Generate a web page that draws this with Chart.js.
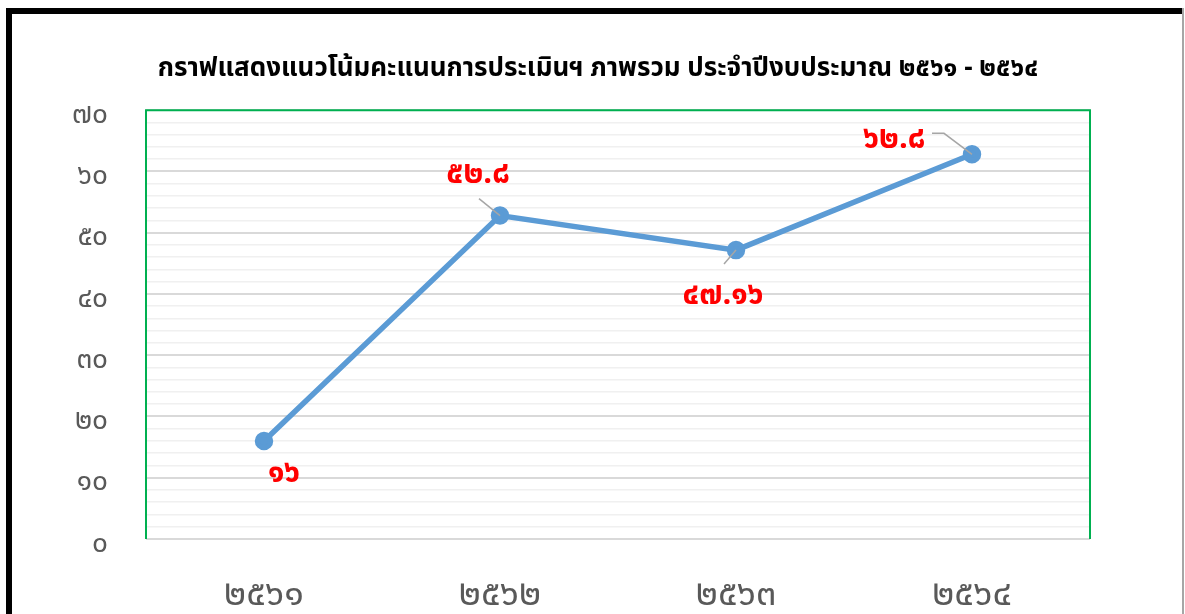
<!DOCTYPE html>
<html>
<head>
<meta charset="utf-8">
<script src="https://cdn.jsdelivr.net/npm/chart.js@4.4.1/dist/chart.umd.min.js"></script>
<style>
  html, body { margin: 0; padding: 0; background: #fff; }
  #wrap { position: absolute; left: 0; top: 0; width: 1185px; height: 614px; }
</style>
</head>
<body>
<div id="wrap"><canvas id="trendChart" width="1185" height="614"></canvas></div>
<script>
const titleText = 'กราฟแสดงแนวโน้มคะแนนการประเมินฯ ภาพรวม ประจำปีงบประมาณ ๒๕๖๑ - ๒๕๖๔';
const years = ['๒๕๖๑', '๒๕๖๒', '๒๕๖๓', '๒๕๖๔'];
const scores = [16, 52.8, 47.16, 62.8];
const yMin = 0, yMax = 70, yStep = 2, yLabelEvery = 10;

const thaiFont = '"Noto Sans Thai", "Leelawadee UI", Tahoma, "DejaVu Sans", "Noto Sans", sans-serif';

// arabic digits -> thai digits
function toThai(v) {
    return String(v).replace(/[0-9]/g, d => '๐๑๒๓๔๕๖๗๘๙'[d]);
}

// where each value label sits relative to its point, and its leader line
const labelPlacement = [
    { dx: 20, dy: 35, leader: null },
    { dx: -22, dy: -39, leader: [[-21, -17], [0, 0]] },
    { dx: -13, dy: 48, leader: [[-12, 14], [0, 0]] },
    { dx: -78, dy: -13, leader: [[-40, -21], [-28, -21], [0, 0]] }
];

const framePlugin = {
    id: 'frame',
    beforeDraw(chart) {
        const ctx = chart.ctx;
        ctx.save();
        ctx.fillStyle = '#000';
        ctx.fillRect(6, 8, 6, 700);
        ctx.fillRect(6, 8, 1178, 6);
        ctx.fillStyle = '#a6a6a6';
        ctx.fillRect(1182, 8, 2, 700);
        ctx.restore();
    },
    afterDatasetsDraw(chart) {
        const ctx = chart.ctx;
        const a = chart.chartArea;
        ctx.save();
        ctx.strokeStyle = '#00b050';
        ctx.lineWidth = 2;
        ctx.beginPath();
        ctx.moveTo(a.left, a.bottom);
        ctx.lineTo(a.left, a.top);
        ctx.lineTo(a.right, a.top);
        ctx.lineTo(a.right, a.bottom);
        ctx.stroke();
        ctx.restore();
    }
};

const valueLabelPlugin = {
    id: 'valueLabels',
    afterDatasetsDraw(chart) {
        const ctx = chart.ctx;
        const meta = chart.getDatasetMeta(0);
        ctx.save();
        meta.data.forEach((pt, i) => {
            const p = labelPlacement[i];
            if (p.leader) {
                ctx.strokeStyle = '#a6a6a6';
                ctx.lineWidth = 1.5;
                ctx.beginPath();
                p.leader.forEach(([lx, ly], k) => {
                    if (k === 0) ctx.moveTo(pt.x + lx, pt.y + ly);
                    else ctx.lineTo(pt.x + lx, pt.y + ly);
                });
                ctx.stroke();
            }
            ctx.fillStyle = '#ff0000';
            ctx.font = 'bold 31px ' + thaiFont;
            ctx.textAlign = 'center';
            ctx.textBaseline = 'middle';
            ctx.fillText(toThai(scores[i]), pt.x + p.dx, pt.y + p.dy);
        });
        ctx.restore();
    }
};

new Chart(document.getElementById('trendChart'), {
    type: 'line',
    data: {
        labels: years,
        datasets: [{
            data: scores,
            borderColor: '#5b9bd5',
            backgroundColor: '#5b9bd5',
            borderWidth: 5.5,
            pointRadius: 6.5,
            pointHoverRadius: 6.5,
            tension: 0
        }]
    },
    options: {
        responsive: false,
        animation: false,
        layout: { padding: { left: 11, right: 0, top: 0, bottom: 0 } },
        plugins: {
            legend: { display: false },
            tooltip: { enabled: false },
            title: {
                display: true,
                text: titleText,
                color: '#000',
                font: { family: thaiFont, size: 26, weight: 'bold', lineHeight: 1.2 },
                padding: { top: 55, bottom: 24 }
            }
        },
        scales: {
            x: {
                offset: true,
                grid: { display: false, drawTicks: false },
                border: { display: false },
                ticks: {
                    color: '#595959',
                    font: { family: thaiFont, size: 36 },
                    padding: 37
                },
                afterFit(scale) { scale.height = 75; }
            },
            y: {
                min: yMin,
                max: yMax,
                grid: {
                    drawTicks: false,
                    color: c => (c.tick.value % yLabelEvery === 0 ? '#d9d9d9' : '#f0f0f0'),
                    lineWidth: c => (c.tick.value % yLabelEvery === 0 ? 2 : 1.5)
                },
                border: { display: false },
                ticks: {
                    stepSize: yStep,
                    autoSkip: false,
                    color: '#595959',
                    font: { family: thaiFont, size: 28 },
                    padding: 38,
                    labelOffset: 7,
                    callback: v => (v % yLabelEvery === 0 ? toThai(v) : '')
                },
                afterFit(scale) { scale.width = 135; }
            },
            // empty right-hand axis, only keeps the margin right of the plot
            yRight: {
                position: 'right',
                min: yMin,
                max: yMax,
                grid: { display: false, drawTicks: false },
                border: { display: false },
                ticks: { display: false },
                afterFit(scale) { scale.width = 95; }
            }
        }
    },
    plugins: [framePlugin, valueLabelPlugin]
});
</script>
</body>
</html>
